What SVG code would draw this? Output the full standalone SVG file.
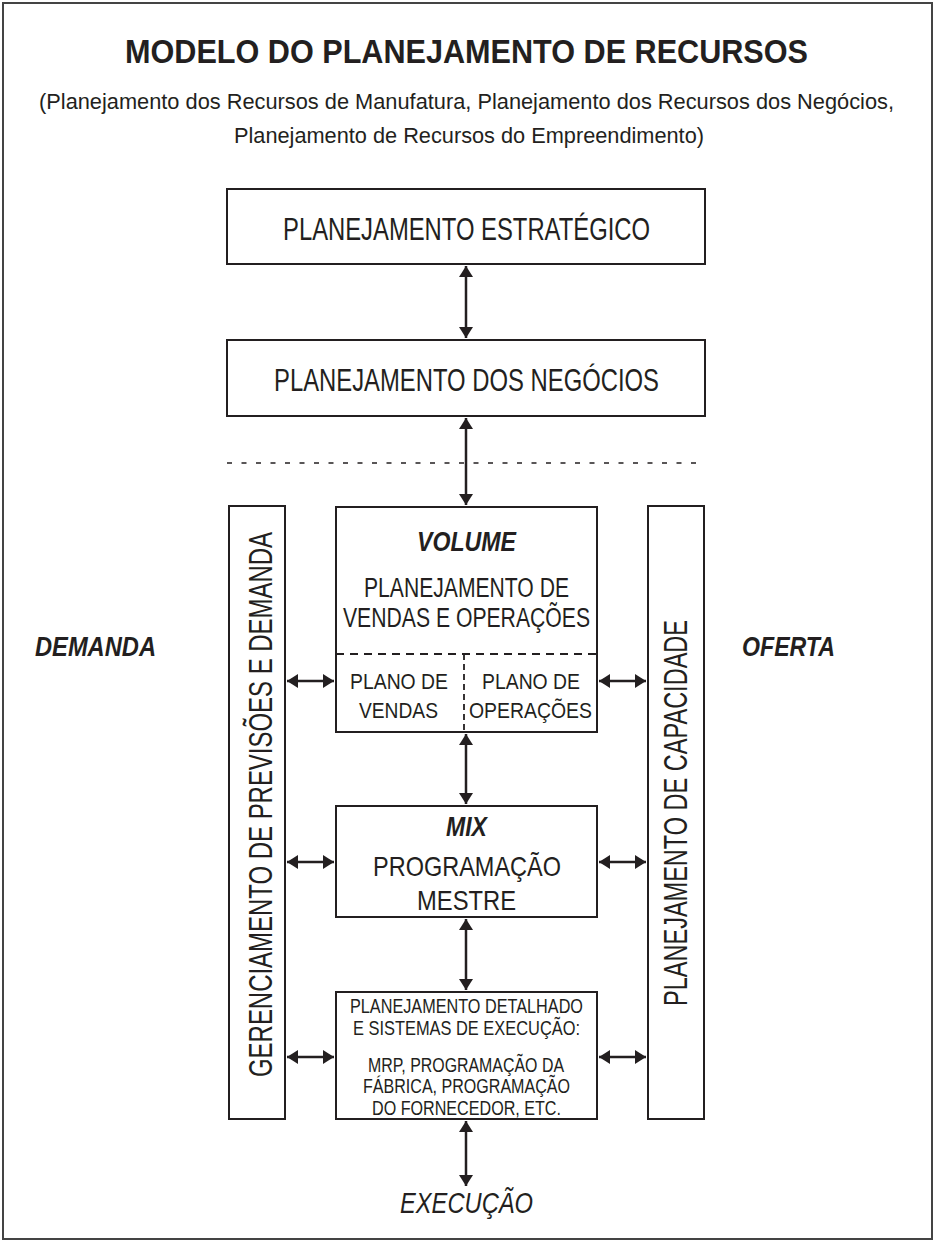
<svg xmlns="http://www.w3.org/2000/svg" width="935" height="1241" viewBox="0 0 935 1241">
  <style>
    text { font-family: "Liberation Sans", Arial, sans-serif; fill: #231f20; text-anchor: middle; }
    .title { font-size: 34px; font-weight: bold; }
    .sub { font-size: 22px; }
    .big { font-size: 31px; }
    .mid { font-size: 27px; }
    .small { font-size: 22px; }
    .tiny { font-size: 21px; }
    .vert { font-size: 33px; }
    .bi { font-weight: bold; font-style: italic; }
    .it { font-style: italic; }
    .box { fill: #fff; stroke: #231f20; stroke-width: 2; }
    .conn { stroke: #231f20; stroke-width: 2.5; fill: none; marker-start: url(#head); marker-end: url(#head); }
    .divider { stroke: #231f20; stroke-width: 1.8; fill: none; }
  </style>
  <defs>
    <marker id="head" viewBox="0 0 11 14" refX="11" refY="7" markerWidth="11" markerHeight="14" markerUnits="userSpaceOnUse" orient="auto-start-reverse">
      <path d="M0,0 L11,7 L0,14 z" fill="#231f20"/>
    </marker>
  </defs>

  <rect width="935" height="1241" fill="#fff"/>
  <!-- outer frame -->
  <rect x="3" y="3" width="929" height="1236" fill="none" stroke="#444" stroke-width="2"/>

  <!-- heading -->
  <g id="heading">
    <text class="title" x="466.5" y="63" textLength="683" lengthAdjust="spacingAndGlyphs">MODELO DO PLANEJAMENTO DE RECURSOS</text>
    <text class="sub" x="466.5" y="109" textLength="855" lengthAdjust="spacingAndGlyphs">(Planejamento dos Recursos de Manufatura, Planejamento dos Recursos dos Negócios,</text>
    <text class="sub" x="469" y="143" textLength="470" lengthAdjust="spacingAndGlyphs">Planejamento de Recursos do Empreendimento)</text>
  </g>

  <!-- side labels -->
  <g id="demanda-label">
    <text class="bi" style="font-size:28px" x="95.5" y="656" textLength="121" lengthAdjust="spacingAndGlyphs">DEMANDA</text>
  </g>
  <g id="oferta-label">
    <text class="bi" style="font-size:28px" x="788.5" y="656" textLength="93" lengthAdjust="spacingAndGlyphs">OFERTA</text>
  </g>

  <!-- strategic level -->
  <g id="estrategico">
    <rect class="box" x="227" y="189" width="478" height="75"/>
    <text class="big" x="466.5" y="240" textLength="367" lengthAdjust="spacingAndGlyphs">PLANEJAMENTO ESTRATÉGICO</text>
  </g>
  <g id="negocios">
    <rect class="box" x="227" y="340" width="478" height="76"/>
    <text class="big" x="466.5" y="391" textLength="385" lengthAdjust="spacingAndGlyphs">PLANEJAMENTO DOS NEGÓCIOS</text>
  </g>

  <!-- level separator -->
  <line x1="227" y1="463" x2="702" y2="463" stroke="#231f20" stroke-width="1.5" stroke-dasharray="5 9.5"/>

  <!-- demand side column -->
  <g id="previsoes">
    <rect class="box" x="229" y="506" width="56" height="613"/>
    <text class="vert" transform="translate(272 804.5) rotate(-90)" x="0" y="0" textLength="545" lengthAdjust="spacingAndGlyphs">GERENCIAMENTO DE PREVISÕES E DEMANDA</text>
  </g>

  <!-- supply side column -->
  <g id="capacidade">
    <rect class="box" x="648" y="506" width="56" height="613"/>
    <text class="vert" transform="translate(687 813) rotate(-90)" x="0" y="0" textLength="386" lengthAdjust="spacingAndGlyphs">PLANEJAMENTO DE CAPACIDADE</text>
  </g>

  <!-- volume: S&OP -->
  <g id="volume">
    <rect class="box" x="336" y="507" width="261" height="225"/>
    <path class="divider" d="M336,654 H597" stroke-dasharray="8 6"/>
    <path class="divider" d="M464,654 V732" stroke-dasharray="6 4"/>
    <text class="mid bi" x="466.5" y="551" textLength="99" lengthAdjust="spacingAndGlyphs">VOLUME</text>
    <text class="mid" x="466.5" y="597" textLength="205" lengthAdjust="spacingAndGlyphs">PLANEJAMENTO DE</text>
    <text class="mid" x="466.5" y="627" textLength="247" lengthAdjust="spacingAndGlyphs">VENDAS E OPERAÇÕES</text>
    <text class="small" x="399" y="689" textLength="98" lengthAdjust="spacingAndGlyphs">PLANO DE</text>
    <text class="small" x="398.5" y="718" textLength="79" lengthAdjust="spacingAndGlyphs">VENDAS</text>
    <text class="small" x="531" y="689" textLength="98" lengthAdjust="spacingAndGlyphs">PLANO DE</text>
    <text class="small" x="530.5" y="718" textLength="123" lengthAdjust="spacingAndGlyphs">OPERAÇÕES</text>
  </g>

  <!-- mix: master schedule -->
  <g id="mix">
    <rect class="box" x="336" y="806" width="261" height="111"/>
    <text class="bi" style="font-size:27px" x="466.5" y="836" textLength="41" lengthAdjust="spacingAndGlyphs">MIX</text>
    <text style="font-size:28px" x="467" y="876" textLength="188" lengthAdjust="spacingAndGlyphs">PROGRAMAÇÃO</text>
    <text style="font-size:28px" x="466.5" y="910" textLength="99" lengthAdjust="spacingAndGlyphs">MESTRE</text>
  </g>

  <!-- detailed planning and execution -->
  <g id="detalhado">
    <rect class="box" x="336" y="992" width="261" height="127"/>
    <text class="tiny" x="466.5" y="1013" textLength="233" lengthAdjust="spacingAndGlyphs">PLANEJAMENTO DETALHADO</text>
    <text class="tiny" x="466.5" y="1035" textLength="227" lengthAdjust="spacingAndGlyphs">E SISTEMAS DE EXECUÇÃO:</text>
    <text class="tiny" x="466" y="1072" textLength="196" lengthAdjust="spacingAndGlyphs">MRP, PROGRAMAÇÃO DA</text>
    <text class="tiny" x="466.5" y="1093" textLength="207" lengthAdjust="spacingAndGlyphs">FÁBRICA, PROGRAMAÇÃO</text>
    <text class="tiny" x="466.5" y="1115" textLength="189" lengthAdjust="spacingAndGlyphs">DO FORNECEDOR, ETC.</text>
  </g>

  <g id="execucao">
    <text class="it" style="font-size:29px" x="466.5" y="1213" textLength="133" lengthAdjust="spacingAndGlyphs">EXECUÇÃO</text>
  </g>

  <!-- two-way connectors -->
  <g id="connectors">
    <line class="conn" x1="466" y1="266" x2="466" y2="338"/>
    <line class="conn" x1="466" y1="418" x2="466" y2="505"/>
    <line class="conn" x1="466" y1="734" x2="466" y2="804"/>
    <line class="conn" x1="466" y1="919" x2="466" y2="990"/>
    <line class="conn" x1="466" y1="1121" x2="466" y2="1186"/>
    <line class="conn" x1="287" y1="681" x2="334" y2="681"/>
    <line class="conn" x1="599" y1="681" x2="646" y2="681"/>
    <line class="conn" x1="287" y1="862" x2="334" y2="862"/>
    <line class="conn" x1="599" y1="862" x2="646" y2="862"/>
    <line class="conn" x1="287" y1="1057" x2="334" y2="1057"/>
    <line class="conn" x1="599" y1="1057" x2="646" y2="1057"/>
  </g>
</svg>
